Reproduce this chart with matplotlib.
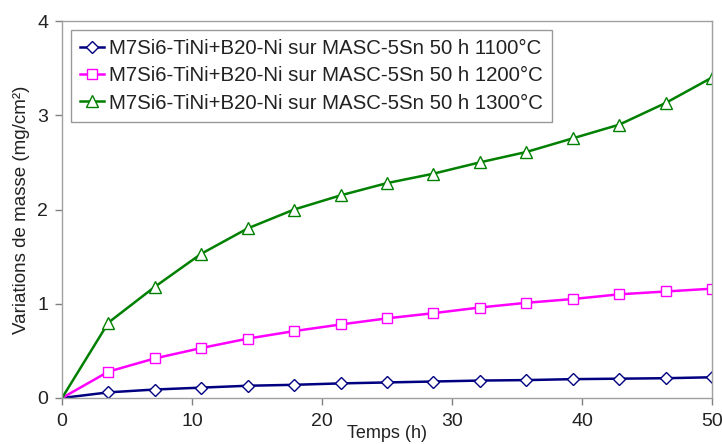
import matplotlib
matplotlib.use("Agg")
import matplotlib.pyplot as plt

temps = [0, 3.57, 7.14, 10.71, 14.29, 17.86, 21.43, 25.0, 28.57, 32.14, 35.71, 39.29, 42.86, 46.43, 50.0]
serie_1100 = [0, 0.06, 0.09, 0.11, 0.13, 0.14, 0.155, 0.165, 0.175, 0.185, 0.19, 0.20, 0.205, 0.21, 0.22]
serie_1200 = [0, 0.28, 0.42, 0.53, 0.63, 0.71, 0.78, 0.845, 0.90, 0.96, 1.01, 1.05, 1.10, 1.13, 1.16]
serie_1300 = [0, 0.80, 1.18, 1.53, 1.80, 2.00, 2.15, 2.28, 2.38, 2.50, 2.61, 2.755, 2.90, 3.13, 3.40]
labels = [
    "M7Si6-TiNi+B20-Ni sur MASC-5Sn 50 h 1100°C",
    "M7Si6-TiNi+B20-Ni sur MASC-5Sn 50 h 1200°C",
    "M7Si6-TiNi+B20-Ni sur MASC-5Sn 50 h 1300°C",
]
xticks = [0, 10, 20, 30, 40, 50]
yticks = [0, 1, 2, 3, 4]

font = "Liberation Sans"

fig = plt.figure(figsize=(7.22, 4.44), dpi=100)
ax = fig.add_axes([62/722, 1-398/444, 650/722, 377/444])

styles = [("#000080", "D", 6), ("#FF00FF", "s", 7), ("#008000", "^", 8)]
for ys, lab, (c, m, ms) in zip([serie_1100, serie_1200, serie_1300], labels, styles):
    ax.plot(temps, ys, color=c, lw=1.8, marker=m, markersize=ms,
            markerfacecolor="white", markeredgecolor=c, markeredgewidth=1.0,
            label=lab, markevery=list(range(1, len(temps))))

ax.set_xlim(0, 50)
ax.set_ylim(0, 4)
ax.set_xticks(xticks)
ax.set_yticks(yticks)
for s in ax.spines.values():
    s.set_color("#a0a0a0")
    s.set_linewidth(1.0)
ax.tick_params(direction="out", length=5, color="#808080", width=1.0,
               labelsize=14, labelcolor="#222222")
for t in ax.get_xticklabels() + ax.get_yticklabels():
    t.set_fontfamily(font)
ax.tick_params(axis="x", pad=6)
ax.tick_params(axis="y", pad=5)

ax.set_ylabel("Variations de masse (mg/cm²)", fontsize=13.5, family=font, color="#222222", labelpad=5)
ax.set_xlabel("Temps (h)", fontsize=13, family=font, color="#222222", labelpad=-4)

leg = ax.legend(loc="upper left", bbox_to_anchor=(9/650, 1-9/377), frameon=True, fancybox=False,
                prop={"family": font, "size": 14.7}, handlelength=1.15,
                handletextpad=0.25, borderpad=0.45, labelspacing=0.4, borderaxespad=0)
leg.get_frame().set_edgecolor("#808080")
leg.get_frame().set_linewidth(1.0)
for t in leg.get_texts():
    t.set_color("#222222")

fig.savefig("out.png", dpi=100)
